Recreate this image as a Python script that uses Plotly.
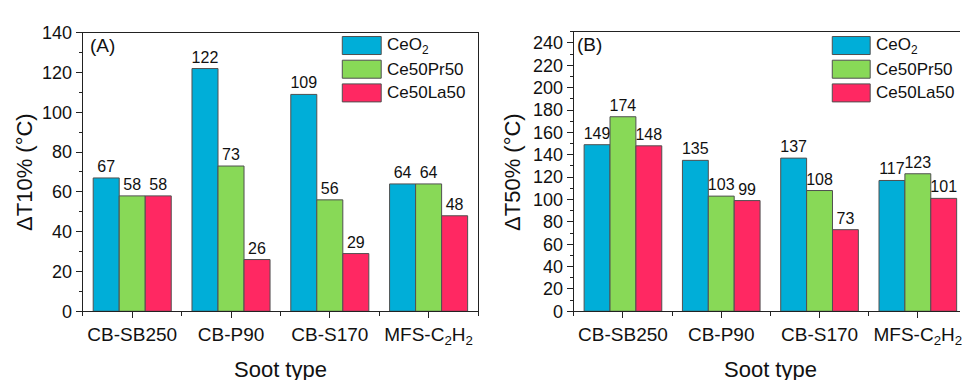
import plotly.graph_objects as go

W, H = 962, 380

categories = ["CB-SB250", "CB-P90", "CB-S170", "MFS-C<sub>2</sub>H<sub>2</sub>"]
series_names = ["CeO<sub>2</sub>", "Ce50Pr50", "Ce50La50"]
colors = ["#00AED8", "#88D957", "#FF2862"]

dT10_ceo2 = [67, 122, 109, 64]
dT10_pr = [58, 73, 56, 64]
dT10_la = [58, 26, 29, 48]

dT50_ceo2 = [149, 135, 137, 117]
dT50_pr = [174, 103, 108, 123]
dT50_la = [148, 99, 73, 101]

left_vals = [dT10_ceo2, dT10_pr, dT10_la]
right_vals = [dT50_ceo2, dT50_pr, dT50_la]

FONT = "Liberation Sans, Arial, sans-serif"
x_pos = list(range(len(categories)))

fig = go.Figure()
for vals, xa, ya in [(left_vals, "x", "y"), (right_vals, "x2", "y2")]:
    for name, col, v in zip(series_names, colors, vals):
        fig.add_trace(go.Bar(
            x=x_pos, y=v, name=name, xaxis=xa, yaxis=ya,
            marker=dict(color=col, line=dict(color="#505050", width=1)),
            text=v, textposition="outside", constraintext="none",
            textfont=dict(size=16, color="#111", family=FONT),
            cliponaxis=False, showlegend=False,
        ))

def px(x):
    return x / W

def py(y):
    return 1 - y / H

axis_common = dict(
    showline=True, linecolor="#222", linewidth=1.3,
    ticks="outside", tickcolor="#222", tickwidth=1.2,
    showgrid=False, zeroline=False,
)
yfont = dict(size=18, color="#111", family=FONT)
xfont = dict(size=19, color="#111", family=FONT)

fig.update_layout(
    width=W, height=H,
    margin=dict(l=0, r=0, t=0, b=0),
    paper_bgcolor="white", plot_bgcolor="white",
    barmode="group", bargap=0.21, bargroupgap=0,
    font=dict(family=FONT, color="#111"),
    xaxis=dict(
        domain=[px(83), px(479)], anchor="y", range=[-0.5, 3.5],
        tickvals=x_pos, ticktext=categories, ticklen=6, mirror=True,
        ticklabeloverflow="allow",
        minor=dict(tickmode="linear", tick0=-0.5, dtick=1, ticklen=4, ticks="outside", tickcolor="#222"),
        tickfont=xfont, **axis_common,
    ),
    yaxis=dict(
        domain=[py(318), py(24)], anchor="x", range=[0, 140],
        dtick=20, ticklen=6, mirror=True,
        minor=dict(dtick=10, ticklen=3, ticks="outside", tickcolor="#222"),
        tickfont=yfont, **axis_common,
    ),
    xaxis2=dict(
        domain=[px(575), 1], anchor="y2", range=[-0.5, 3.5 - 7 / 98.5],
        tickvals=x_pos, ticktext=categories, ticklen=6, mirror=True,
        ticklabeloverflow="allow",
        minor=dict(tickmode="linear", tick0=-0.5, dtick=1, ticklen=4, ticks="outside", tickcolor="#222"),
        tickfont=xfont, **axis_common,
    ),
    yaxis2=dict(
        domain=[py(318), py(23)], anchor="x2", range=[0, 250],
        dtick=20, ticklen=6, mirror=False,
        minor=dict(dtick=10, ticklen=3, ticks="outside", tickcolor="#222"),
        tickfont=yfont, **axis_common,
    ),
)

annotations = []
# Axis titles
annotations.append(dict(text="ΔT10% (°C)", x=px(25), y=py(171), xref="paper", yref="paper",
                        textangle=-90, showarrow=False, font=dict(size=22, family=FONT, color="#111"),
                        xanchor="center", yanchor="middle"))
annotations.append(dict(text="ΔT50% (°C)", x=px(514), y=py(171), xref="paper", yref="paper",
                        textangle=-90, showarrow=False, font=dict(size=22, family=FONT, color="#111"),
                        xanchor="center", yanchor="middle"))
for cx in [281, 772]:
    annotations.append(dict(text="Soot type", x=px(cx), y=py(364), xref="paper", yref="paper",
                            showarrow=False, font=dict(size=22, family=FONT, color="#111"),
                            xanchor="center", yanchor="top"))
# Panel labels
annotations.append(dict(text="(A)", x=px(88), y=py(38), xref="paper", yref="paper", showarrow=False,
                        font=dict(size=19, family=FONT, color="#111"), xanchor="left", yanchor="middle"))
annotations.append(dict(text="(B)", x=px(576), y=py(36), xref="paper", yref="paper", showarrow=False,
                        font=dict(size=19, family=FONT, color="#111"), xanchor="left", yanchor="middle"))

# Custom legends (large swatches like the original)
shapes = []
for sx0, sx1, tx in [(343, 382, 386), (834, 872, 876)]:
    for i, (name, col) in enumerate(zip(series_names, colors)):
        y0 = 28 + 25 * i
        y1 = y0 + 19
        shapes.append(dict(type="rect", xref="paper", yref="paper",
                           x0=px(sx0), x1=px(sx1), y0=py(y1), y1=py(y0),
                           fillcolor=col, line=dict(color="#505050", width=1)))
        annotations.append(dict(text=name, x=px(tx), y=py((y0 + y1) / 2), xref="paper", yref="paper",
                                showarrow=False, xanchor="left", yanchor="middle",
                                font=dict(size=17, family=FONT, color="#111")))

fig.update_layout(annotations=annotations, shapes=shapes)
fig.write_html("out.html")
